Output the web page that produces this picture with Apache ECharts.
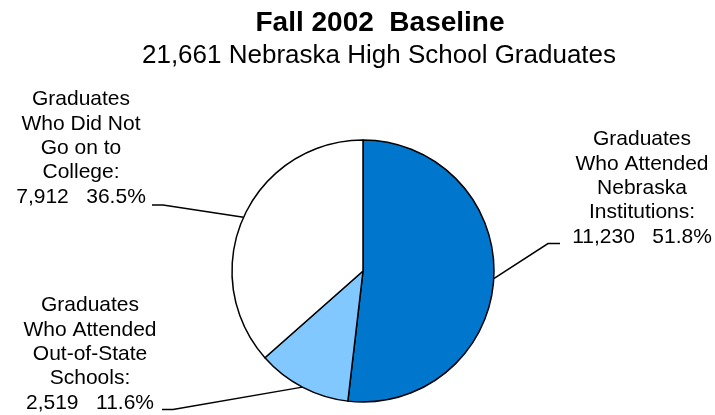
<!DOCTYPE html>
<html>
<head>
<meta charset="utf-8">
<script src="https://cdn.jsdelivr.net/npm/echarts@6/dist/echarts.min.js"></script>
<style>
  html, body { margin: 0; padding: 0; background: #fff; }
  #chart { width: 715px; height: 415px; }
</style>
</head>
<body>
<div id="chart"></div>
<script>
// ---- data ----
const titleText = 'Fall 2002  Baseline';
const subtitleText = '21,661 Nebraska High School Graduates';
const categories = [
  'Graduates\nWho Attended\nNebraska\nInstitutions:',
  'Graduates\nWho Attended\nOut-of-State\nSchools:',
  'Graduates\nWho Did Not\nGo on to\nCollege:'
];
const values = [11230, 2519, 7912];

// ---- presentation ----
const sliceColors = ['#0077CC', '#80C8FF', '#FFFFFF'];
const FONT = '"Liberation Sans", Arial, sans-serif';
// label anchor (centre x, bottom y) and leader-line elbow / end for each slice
const labelPlacement = [
  { x: 642, y: 249, elbow: [548, 243.5], end: [560, 243.5] },
  { x: 90,  y: 415, elbow: [173, 409.5], end: [162, 409.5] },
  { x: 81,  y: 209, elbow: [163, 205],   end: [152, 205] }
];

const total = values.reduce((a, b) => a + b, 0);
const chart = echarts.init(document.getElementById('chart'), null, { renderer: 'canvas' });

const option = {
  animation: false,
  backgroundColor: '#ffffff',
  title: [
    {
      text: titleText,
      left: 375, top: 4, textAlign: 'center',
      textStyle: { fontFamily: FONT, fontSize: 28, fontWeight: 'bold', color: '#000' }
    },
    {
      text: subtitleText,
      left: 374, top: 38, textAlign: 'center',
      textStyle: { fontFamily: FONT, fontSize: 26, fontWeight: 'normal', color: '#000' }
    }
  ],
  series: [{
    type: 'pie',
    center: [363, 271],
    radius: 131,
    startAngle: 90,
    clockwise: true,
    avoidLabelOverlap: false,
    emphasis: { disabled: true },
    data: values.map((v, i) => ({
      name: categories[i],
      value: v,
      itemStyle: { color: sliceColors[i] }
    })),
    itemStyle: { borderColor: '#000', borderWidth: 1.5 },
    label: {
      show: true,
      position: 'outside',
      color: '#000',
      fontFamily: FONT,
      fontSize: 21,
      lineHeight: 24.3,
      align: 'center',
      formatter: function (p) {
        const pct = (p.value / total * 100).toFixed(1);
        return p.name + '\n' + p.value.toLocaleString('en-US') + '   ' + pct + '%';
      }
    },
    labelLine: {
      show: true,
      length: 10,
      length2: 10,
      lineStyle: { color: '#000', width: 1.5 }
    },
    labelLayout: function (params) {
      const pl = labelPlacement[params.dataIndex];
      const start = params.labelLinePoints ? params.labelLinePoints[0] : null;
      const res = {
        x: pl.x,
        y: pl.y,
        align: 'center',
        verticalAlign: 'bottom'
      };
      if (start) {
        res.labelLinePoints = [[start[0], start[1]], pl.elbow, pl.end];
      }
      return res;
    }
  }]
};
chart.setOption(option);
</script>
</body>
</html>
